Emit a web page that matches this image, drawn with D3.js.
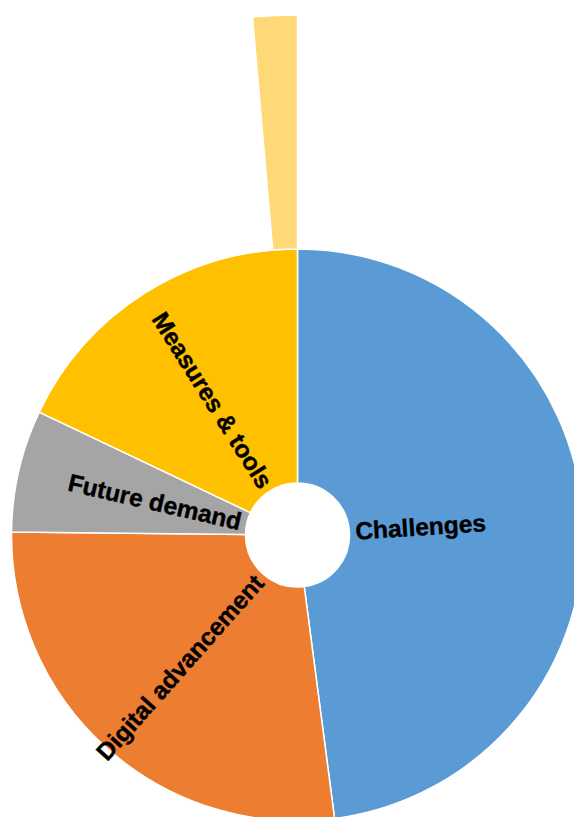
<!DOCTYPE html>
<html>
<head>
<meta charset="utf-8">
<script src="https://cdn.jsdelivr.net/npm/d3@7/dist/d3.min.js"></script>
<style>
  html, body { margin: 0; padding: 0; background: #ffffff; overflow: hidden; }
  svg { display: block; }
</style>
</head>
<body>
<svg id="chart" width="574" height="817"></svg>
<script>
// Inner ring: topic groups
const categories = ["Challenges", "Digital advancement", "Future demand", "Measures & tools"];
const values = [139, 79, 20, 52];
const colors = ["#5B9BD5", "#ED7D31", "#A5A5A5", "#FFC000"];

// Outer ring: the one visible sub-item, placed at the end of its parent's span
const subParent = "Measures & tools";
const subValues = [4];
const subColors = ["#FFD978"];

const width = 574, height = 817;
const cx = 297.5, cy = 535;

const svg = d3.select("#chart");
const g = svg.append("g").attr("transform", `translate(${cx},${cy})`);

const total = d3.sum(values);
const angle = d3.scaleLinear().domain([0, total]).range([0, 2 * Math.PI]);
const radius = d3.scaleLinear().domain([0, 2]).range([52, 520]);

const pie = d3.pie().sort(null).value(d => d.value);
const slices = pie(categories.map((c, i) => ({ name: c, value: values[i], color: colors[i] })));

const arcInner = d3.arc().innerRadius(radius(0)).outerRadius(radius(1));

g.selectAll("path.inner")
  .data(slices)
  .join("path")
  .attr("class", "inner")
  .attr("d", arcInner)
  .attr("fill", d => d.data.color)
  .attr("stroke", "#ffffff")
  .attr("stroke-width", 1.5);

// Outer ring
const parent = slices.find(s => s.data.name === subParent);
let end = parent.endAngle;
const subArcs = subValues.map((v, i) => {
  const a = { startAngle: end - angle(v), endAngle: end, color: subColors[i] };
  end = a.startAngle;
  return a;
});
const arcOuter = d3.arc().innerRadius(radius(1)).outerRadius(radius(2));
g.selectAll("path.outer")
  .data(subArcs)
  .join("path")
  .attr("class", "outer")
  .attr("d", arcOuter)
  .attr("fill", d => d.color)
  .attr("stroke", "#ffffff")
  .attr("stroke-width", 1.5);

// Radial labels anchored just outside the hole
const r0 = 58;
g.selectAll("text.lbl")
  .data(slices)
  .join("text")
  .attr("class", "lbl")
  .each(function (d) {
    const a = (d.startAngle + d.endAngle) / 2;
    const x = r0 * Math.sin(a), y = -r0 * Math.cos(a);
    let deg = a * 180 / Math.PI - 90;
    let anchor = "start";
    if (a > Math.PI) { deg -= 180; anchor = "end"; }
    d3.select(this)
      .attr("transform", `translate(${x},${y}) rotate(${deg})`)
      .attr("text-anchor", anchor);
  })
  .attr("dominant-baseline", "central")
  .attr("font-family", "'Liberation Sans', Arial, sans-serif")
  .attr("font-weight", "bold")
  .attr("font-size", 24.5)
  .attr("fill", "#000000")
  .attr("stroke", "#000000")
  .attr("stroke-width", 0.4)
  .text(d => d.data.name);
</script>
</body>
</html>
